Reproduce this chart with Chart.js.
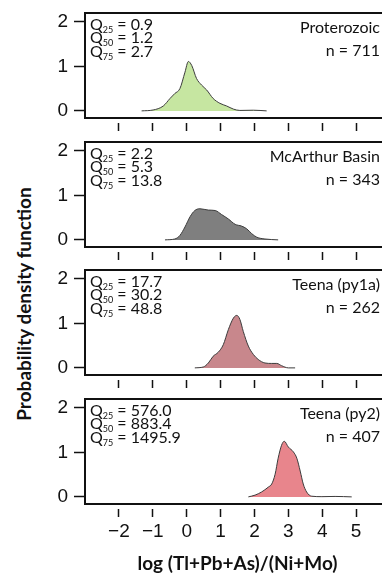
<!DOCTYPE html>
<html>
<head>
<meta charset="utf-8">
<script src="https://cdn.jsdelivr.net/npm/chart.js@4.4.1/dist/chart.umd.min.js"></script>
<style>
  html, body { margin: 0; padding: 0; background: #fff; overflow: hidden; }
  #wrap { position: relative; width: 382px; height: 579px; overflow: hidden; }
  .panel { position: absolute; left: 0; width: 390px; }
  #ytitle {
    position: absolute; left: -176px; top: 292px; width: 400px; height: 24px;
    line-height: 24px; text-align: center; transform: rotate(-90deg);
    white-space: nowrap; font: bold 19px Lato, sans-serif; color: #111;
  }
</style>
</head>
<body>
<div id="wrap">
  <div id="ytitle">Probability density function</div>
</div>
<script>
// panel labels and stats
const panelNames = ["Proterozoic", "McArthur Basin", "Teena (py1a)", "Teena (py2)"];
const sampleSizes = [711, 343, 262, 407];
const q25 = ["0.9", "2.2", "17.7", "576.0"];
const q50 = ["1.2", "5.3", "30.2", "883.4"];
const q75 = ["2.7", "13.8", "48.8", "1495.9"];
const fillColors = ["#c6e6a1", "#7f7f7f", "#c8878c", "#e8858c"];

// density curves
const proterozoicX = [-1.33, -0.99, -0.69, -0.49, -0.35, -0.20, -0.05, 0.05, 0.15, 0.29, 0.44, 0.59, 0.78, 0.98, 1.18, 1.38, 1.57, 1.97, 2.36];
const proterozoicY = [0, 0.02, 0.11, 0.28, 0.39, 0.50, 0.87, 1.11, 1.02, 0.73, 0.58, 0.47, 0.28, 0.17, 0.11, 0.04, 0.01, 0.015, 0];
const mcarthurX = [-0.64, -0.35, -0.20, -0.05, 0.10, 0.24, 0.39, 0.64, 0.84, 1.03, 1.23, 1.43, 1.62, 1.77, 1.92, 2.07, 2.31, 2.70];
const mcarthurY = [0, 0.02, 0.10, 0.29, 0.52, 0.66, 0.70, 0.67, 0.66, 0.57, 0.47, 0.35, 0.31, 0.25, 0.14, 0.06, 0.02, 0];
const py1aX = [0.24, 0.49, 0.64, 0.78, 0.93, 1.08, 1.23, 1.38, 1.48, 1.57, 1.67, 1.82, 1.97, 2.11, 2.31, 2.51, 2.66, 2.80, 3.00, 3.20];
const py1aY = [0, 0.02, 0.11, 0.26, 0.35, 0.52, 0.86, 1.12, 1.18, 1.09, 0.82, 0.49, 0.30, 0.19, 0.11, 0.10, 0.10, 0.05, 0, 0];
const py2X = [1.82, 2.02, 2.21, 2.41, 2.51, 2.61, 2.70, 2.80, 2.88, 3.00, 3.15, 3.25, 3.35, 3.44, 3.54, 3.69, 3.99, 4.38, 4.87];
const py2Y = [0, 0.04, 0.11, 0.22, 0.29, 0.51, 0.87, 1.16, 1.25, 1.12, 1.01, 0.87, 0.58, 0.29, 0.11, 0.015, 0.005, 0.01, 0];

const curvesX = [proterozoicX, mcarthurX, py1aX, py2X];
const curvesY = [proterozoicY, mcarthurY, py1aY, py2Y];

// axis ticks
const xTicks = [-2, -1, 0, 1, 2, 3, 4, 5];
const yTicks = [0, 1, 2];

// layout (page pixels)
const panelTops = [13, 142, 270, 399];
const areaHeight = 105;
const padTop = 6;
const wrap = document.getElementById("wrap");

// box around each plot region
const framePlugin = {
  id: "frame",
  afterDatasetsDraw(chart) {
    const { ctx, chartArea: a } = chart;
    ctx.save();
    ctx.strokeStyle = "#111";
    ctx.lineWidth = 2;
    ctx.strokeRect(a.left, a.top, a.right - a.left, a.bottom - a.top);
    ctx.restore();
  },
};

// quartiles on the left, name and n on the right
function statsPlugin(i) {
  return {
    id: "stats" + i,
    afterDraw(chart) {
      const { ctx, chartArea: a } = chart;
      const rows = [["25", q25[i]], ["50", q50[i]], ["75", q75[i]]];
      ctx.save();
      ctx.fillStyle = "#111";
      ctx.textBaseline = "alphabetic";
      rows.forEach(([sub, val], r) => {
        const base = a.top + 16.5 + r * 13.5;
        let x = a.left + 5;
        ctx.font = "16px Lato, sans-serif";
        ctx.textAlign = "left";
        ctx.fillText("Q", x, base);
        x += ctx.measureText("Q").width;
        ctx.font = "9px Lato, sans-serif";
        ctx.fillText(sub, x, base + 3);
        x += ctx.measureText(sub).width;
        ctx.font = "16px Lato, sans-serif";
        ctx.fillText(" = " + val, x, base);
      });
      ctx.textAlign = "right";
      ctx.font = "16px Lato, sans-serif";
      ctx.fillText(panelNames[i], a.right - 10, a.top + 20);
      ctx.fillText("n = " + sampleSizes[i], a.right - 10, a.top + 43);
      ctx.restore();
    },
  };
}

const fmt = (v) => (v < 0 ? "\u2212" + Math.abs(v) : String(v));

panelNames.forEach((name, i) => {
  const last = i === panelNames.length - 1;
  const bottomH = last ? 579 - (panelTops[i] + areaHeight) : 16;
  const div = document.createElement("div");
  div.className = "panel";
  div.style.top = panelTops[i] - padTop + "px";
  div.style.height = padTop + areaHeight + bottomH + "px";
  const canvas = document.createElement("canvas");
  div.appendChild(canvas);
  wrap.appendChild(div);

  const points = curvesX[i].map((x, k) => ({ x: x, y: curvesY[i][k] }));

  new Chart(canvas, {
    type: "line",
    data: {
      datasets: [
        {
          data: points,
          backgroundColor: fillColors[i],
          borderColor: "#3c3c3c",
          borderWidth: 1,
          fill: "origin",
          pointRadius: 0,
          cubicInterpolationMode: "monotone",
        },
      ],
    },
    options: {
      responsive: true,
      maintainAspectRatio: false,
      animation: false,
      layout: { padding: { top: padTop, left: 0, right: 0, bottom: 0 } },
      plugins: { legend: { display: false }, tooltip: { enabled: false } },
      scales: {
        x: {
          type: "linear",
          min: -3,
          max: 6,
          afterBuildTicks: (s) => { s.ticks = xTicks.map((v) => ({ value: v })); },
          afterFit: (s) => {
            s.height = bottomH;
            s.paddingLeft = 0;
            s.paddingRight = 0;
          },
          border: { display: false },
          grid: {
            drawOnChartArea: false,
            drawTicks: true,
            tickLength: 13,
            tickWidth: 1.5,
            tickColor: "#111",
            tickBorderDash: [0, 5, 8, 40],
          },
          ticks: {
            display: last,
            padding: 3,
            color: "#111",
            font: { family: "'Liberation Sans', Arial, sans-serif", size: 19 },
            callback: fmt,
          },
          title: {
            display: last,
            text: "log (Tl+Pb+As)/(Ni+Mo)",
            color: "#111",
            font: { family: "Lato, sans-serif", size: 19, weight: "bold" },
            padding: { top: 0, bottom: 4 },
          },
        },
        y: {
          min: -0.16,
          max: 2.2,
          afterBuildTicks: (s) => { s.ticks = yTicks.map((v) => ({ value: v })); },
          afterFit: (s) => {
            s.width = 85;
            s.paddingTop = 0;
            s.paddingBottom = 0;
          },
          border: { display: false },
          grid: {
            drawOnChartArea: false,
            tickLength: 11,
            tickWidth: 1.5,
            tickColor: "#111",
          },
          ticks: {
            padding: 6,
            color: "#111",
            font: { family: "'Liberation Sans', Arial, sans-serif", size: 19 },
          },
        },
      },
    },
    plugins: [framePlugin, statsPlugin(i)],
  });
});
</script>
</body>
</html>
